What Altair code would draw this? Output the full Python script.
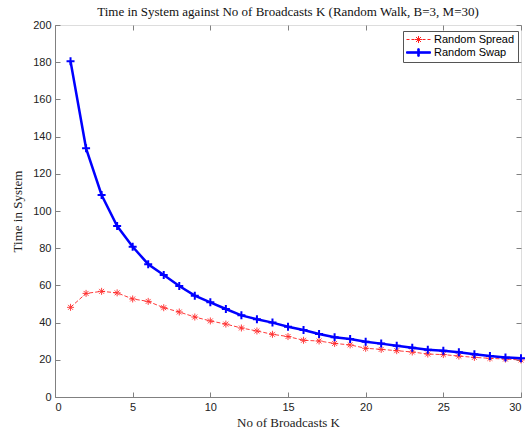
import altair as alt
import pandas as pd

K = list(range(1, 31))
swap = [180.5, 133.7, 108.6, 91.9, 80.8, 71.4, 65.6, 59.7, 54.5, 50.9,
        47.3, 43.9, 41.8, 40.0, 37.8, 36.0, 33.9, 32.1, 31.2, 29.7,
        28.7, 27.6, 26.5, 25.4, 24.9, 24.0, 23.0, 22.0, 21.3, 20.8]
spread = [48.2, 55.7, 56.8, 56.0, 52.7, 51.4, 48.0, 45.7, 43.0, 40.9,
          39.2, 37.1, 35.5, 33.7, 32.5, 30.5, 30.1, 28.8, 28.0, 26.2,
          25.6, 24.9, 24.2, 23.1, 22.8, 22.0, 21.3, 20.8, 20.4, 19.9]
series_names = ["Random Spread", "Random Swap"]
x_ticks = [0, 5, 10, 15, 20, 25, 30]
y_ticks = list(range(0, 201, 20))

df = pd.DataFrame({
    "K": K * 2,
    "value": spread + swap,
    "series": [series_names[0]] * len(K) + [series_names[1]] * len(K),
})

SERIF = "Liberation Serif"
SANS = "Liberation Sans"
GRAY = "#808080"

ASTERISK = "M-1,0L1,0M0,-1L0,1M-0.7,-0.7L0.7,0.7M-0.7,0.7L0.7,-0.7"
PLUS = "M-1,0L1,0M0,-1L0,1"

LEG_SPREAD = ("M-1,0L-0.4,0M0,0L0.6,0M1.0,0L1.8,0M2.2,0L2.8,0M3.2,0L3.8,0"
              "M0.7,0L2.1,0M1.4,-0.7L1.4,0.7M0.9,-0.5L1.9,0.5M0.9,0.5L1.9,-0.5")
LEG_SWAP = ("M-1,-0.15L3.8,-0.15L3.8,0.15L-1,0.15Z"
            "M1.25,-0.75L1.55,-0.75L1.55,0.75L1.25,0.75Z")

xscale = alt.Scale(domain=[0, 30], nice=False, zero=False)
yscale = alt.Scale(domain=[0, 200], nice=False)

bottom_axis = alt.Axis(orient="bottom", values=x_ticks, tickSize={"expr": "-5"}, labelPadding=9,
                       domainColor=GRAY, tickColor=GRAY, grid=False,
                       labelFont=SANS, labelFontSize=11, labelColor="#222",
                       title="No of Broadcasts K", titleFont=SERIF, titleFontSize=13,
                       titleFontWeight="normal", titleColor="#222", titlePadding=4)
left_axis = alt.Axis(orient="left", values=y_ticks, tickSize={"expr": "-5"}, labelPadding=9,
                     domainColor=GRAY, tickColor=GRAY, grid=False,
                     labelFont=SANS, labelFontSize=11, labelColor="#222",
                     title="Time in System", titleFont=SERIF, titleFontSize=13,
                     titleFontWeight="normal", titleColor="#222", titlePadding=8)
top_axis = alt.Axis(orient="top", values=x_ticks, tickSize=5, offset=-5,
                    labels=False, title=None, domain=False, tickColor=GRAY, grid=False)
right_axis = alt.Axis(orient="right", values=y_ticks, tickSize=5, offset=-5,
                      labels=False, title=None, domain=False, tickColor=GRAY, grid=False)

base = alt.Chart(df)

red_line = base.transform_filter(alt.datum.series == series_names[0]).mark_line(
    color="#ff3c3c", strokeWidth=1, strokeDash=[4, 2]
).encode(
    x=alt.X("K:Q", scale=xscale, axis=bottom_axis),
    y=alt.Y("value:Q", scale=yscale, axis=left_axis),
)

red_pts = base.transform_filter(alt.datum.series == series_names[0]).mark_point(
    shape=ASTERISK, size=49, color="#ff2020", strokeWidth=1, opacity=0.85
).encode(
    x=alt.X("K:Q", scale=xscale, axis=top_axis),
    y=alt.Y("value:Q", scale=yscale, axis=right_axis),
)

blue_line = base.transform_filter(alt.datum.series == series_names[1]).mark_line(
    color="#0000ff", strokeWidth=2.5
).encode(
    x=alt.X("K:Q", scale=xscale, axis=None),
    y=alt.Y("value:Q", scale=yscale, axis=None),
)

blue_pts = base.transform_filter(alt.datum.series == series_names[1]).mark_point(
    shape=PLUS, size=64, color="#0000ff", strokeWidth=2, opacity=1
).encode(
    x=alt.X("K:Q", scale=xscale, axis=None),
    y=alt.Y("value:Q", scale=yscale, axis=None),
)

leg_scale_c = alt.Scale(domain=series_names, range=["#ff2020", "#0000ff"])
leg_scale_s = alt.Scale(domain=series_names, range=[LEG_SPREAD, LEG_SWAP])
legend = alt.Legend(title=None, orient="none", legendX=348, legendY=6,
                    padding=3, strokeColor="#555", fillColor="white",
                    symbolSize=100, symbolStrokeWidth=1, labelOffset=17,
                    rowPadding=1, labelFont=SANS, labelFontSize=11, labelColor="#000",
                    labelExpr="datum.label + '\u00a0\u00a0\u00a0'")

legend_layer = base.transform_filter("false").mark_point(filled=True, opacity=1).encode(
    x=alt.X("K:Q", scale=xscale, axis=None),
    y=alt.Y("value:Q", scale=yscale, axis=None),
    fill=alt.Fill("series:N", scale=leg_scale_c, legend=legend),
    stroke=alt.Stroke("series:N", scale=leg_scale_c, legend=legend),
    shape=alt.Shape("series:N", scale=leg_scale_s, legend=legend),
)

chart = alt.layer(red_line, red_pts, blue_line, blue_pts, legend_layer).resolve_axis(
    x="independent", y="independent"
).properties(
    width=466, height=372,
    title=alt.TitleParams("Time in System against No of Broadcasts K (Random Walk, B=3, M=30)",
                          font=SERIF, fontSize=13, fontWeight="normal", color="#111",
                          anchor="middle", offset=0),
    autosize=alt.AutoSizeParams(type="none"),
    padding={"left": 55, "top": 25, "right": 7, "bottom": 38},
).configure_view(stroke=GRAY, strokeWidth=1).configure(background="white")

chart.save("out.html", embed_options={"renderer": "svg", "actions": False})
